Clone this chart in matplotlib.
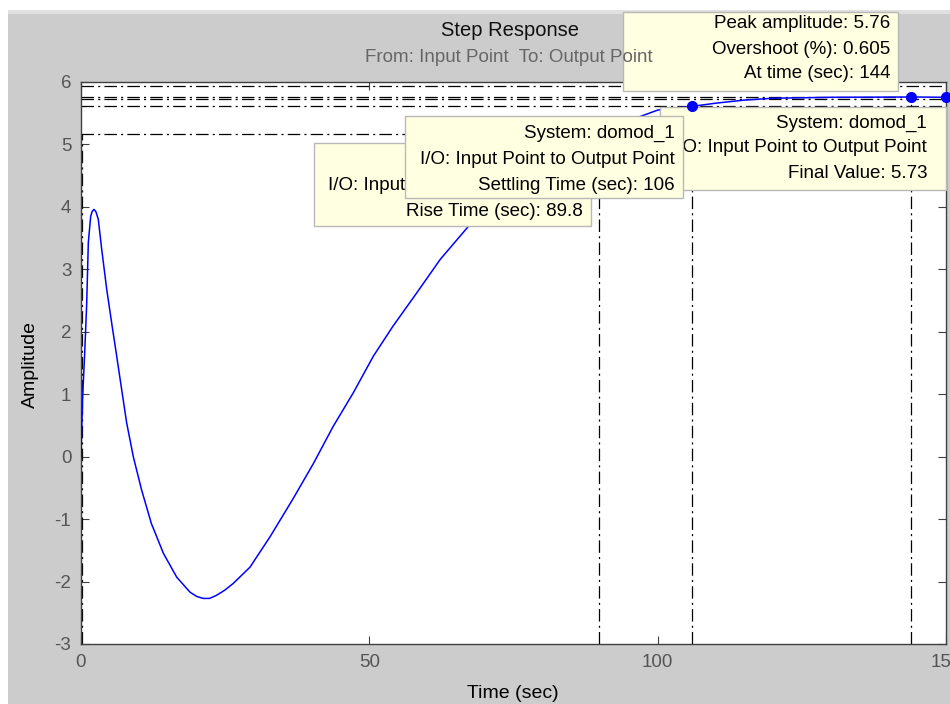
import matplotlib
matplotlib.use('Agg')
import matplotlib.pyplot as plt
from matplotlib.patches import Rectangle

plt.rcParams['font.family'] = ['Liberation Sans', 'DejaVu Sans']
plt.rcParams['lines.scale_dashes'] = False
plt.rcParams['axes.unicode_minus'] = False

# step response
time = [0, 0.1, 0.29, 0.69, 0.99, 1.27, 1.68, 1.95, 2.25, 2.6, 3.0, 3.59, 4.46, 5.32,
        6.19, 7.06, 7.92, 9.07, 10.5, 12.2, 14.3, 16.6, 18.9, 20.1, 21.2, 22.3, 23.5,
        24.9, 26.4, 29.3, 32.8, 36.8, 40.3, 43.7, 47.2, 50.7, 54.1, 58.2, 62.3, 67.2,
        72, 78, 84, 89.8, 95, 100, 106, 110, 115, 120, 130, 144, 150]
amp = [0, 0.4, 0.96, 1.77, 2.46, 3.43, 3.85, 3.93, 3.96, 3.92, 3.80, 3.32, 2.68, 2.14,
       1.61, 1.07, 0.54, 0, -0.53, -1.07, -1.55, -1.93, -2.17, -2.24, -2.27, -2.27, -2.22,
       -2.14, -2.03, -1.77, -1.28, -0.67, -0.11, 0.48, 1.02, 1.61, 2.09, 2.62, 3.16, 3.69,
       4.12, 4.58, 4.90, 5.16, 5.38, 5.55, 5.61, 5.66, 5.71, 5.74, 5.755, 5.76, 5.755]

# characteristics
rise_t0 = 0.1
rise_t = 89.8
rise_lvl = 5.16
settle_t = 106
band_hi = 5.93
band_lo = 5.61
peak_t = 144
peak_amp = 5.76
final_t = 150
final_val = 5.73

W, H = 950, 704
fig = plt.figure(figsize=(W / 100, H / 100), dpi=100)
fig.patch.set_facecolor('white')

def fx(x):
    return x / W

def fy(y):
    return 1 - y / H

# gray figure area
fig.add_artist(Rectangle((fx(8), 0), 1, fy(10), facecolor='#cccccc', edgecolor='none',
                         transform=fig.transFigure, zorder=-2))
fig.add_artist(Rectangle((fx(8), fy(14)), 1, 4 / H, facecolor='#e0e0e0', edgecolor='none',
                         transform=fig.transFigure, zorder=-1))

ax = fig.add_axes([fx(81), fy(644), (946 - 81) / W, (644 - 82) / H])
ax.set_facecolor('white')

dd = (0, (9, 3, 1.5, 3))
lk = dict(color='black', lw=0.9, ls=dd, zorder=2)
ax.plot([0, final_t], [band_hi, band_hi], **lk)
ax.plot([0, final_t], [final_val, final_val], **lk)
ax.plot([0, peak_t], [peak_amp, peak_amp], **lk)
ax.plot([0, final_t], [band_lo, band_lo], **lk)
ax.plot([0, rise_t], [rise_lvl, rise_lvl], **lk)
ax.plot([rise_t0, rise_t0], [-3, rise_lvl], **lk)
ax.plot([rise_t, rise_t], [-3, rise_lvl], **lk)
ax.plot([settle_t, settle_t], [-3, band_lo], **lk)
ax.plot([peak_t, peak_t], [-3, peak_amp], **lk)

ax.plot(time, amp, color='#0000ff', lw=1.1, zorder=3)
ax.plot([rise_t], [rise_lvl], 'o', color='#0000ff', ms=7, zorder=3)
ax.plot([settle_t, peak_t, final_t], [band_lo, peak_amp, final_val + 0.03], 'o',
        color='#0000ff', ms=7, zorder=9, clip_on=False)

ax.set_xlim(0, 150)
ax.set_ylim(-3, 6)
ax.set_xticks([0, 50, 100, 150])
ax.set_yticks(range(-3, 7))
ax.tick_params(direction='in', length=6, width=0.8, color='#404040', labelcolor='#555555',
               labelsize=13.5, top=True, right=True, pad=7)
for s in ax.spines.values():
    s.set_color('#404040')
    s.set_linewidth(1)

fig.text(fx(513), fy(693), 'Time (sec)', ha='center', va='center', fontsize=14)
fig.text(fx(30), fy(365), 'Amplitude', ha='center', va='center', rotation=90, fontsize=14)

def tip(x0, y0, x1, y1, lines, ys, tx, z):
    ax.add_patch(Rectangle((fx(x0), fy(y1)), (x1 - x0) / W, (y1 - y0) / H,
                           facecolor='#ffffe1', edgecolor='#b8b8b8', lw=1,
                           transform=fig.transFigure, clip_on=False, zorder=z))
    for s, yy in zip(lines, ys):
        ax.text(fx(tx), fy(yy), s, ha='right', va='center', fontsize=13.5,
                color='black', transform=fig.transFigure, clip_on=False, zorder=z + 0.5)

tip(660, 107, 946, 190, ['System: domod_1', 'I/O: Input Point to Output Point',
                         'Final Value: %.2f' % final_val], [123, 148, 174], 927, 4)
tip(314, 143, 591, 226, ['System: domod_1', 'I/O: Input Point to Output Point',
                         'Rise Time (sec): %.1f' % rise_t], [158, 185, 211], 583, 5)
tip(405, 116, 683, 198, ['System: domod_1', 'I/O: Input Point to Output Point',
                         'Settling Time (sec): %d' % settle_t], [133, 159, 185], 675, 6)
tip(623, 12, 898, 91, ['Peak amplitude: %.2f' % peak_amp, 'Overshoot (%): 0.605',
                       'At time (sec): %d' % peak_t], [24, 49, 74], 890, 7)

ax.text(fx(510), fy(31), 'Step Response', ha='center', va='center', fontsize=14.5,
        color='#111111', transform=fig.transFigure, clip_on=False, zorder=10)
ax.text(fx(509), fy(58), 'From: Input Point  To: Output Point', ha='center', va='center',
        fontsize=13.5, color='#666666', transform=fig.transFigure, clip_on=False, zorder=10)

fig.savefig('out.png', dpi=100)
